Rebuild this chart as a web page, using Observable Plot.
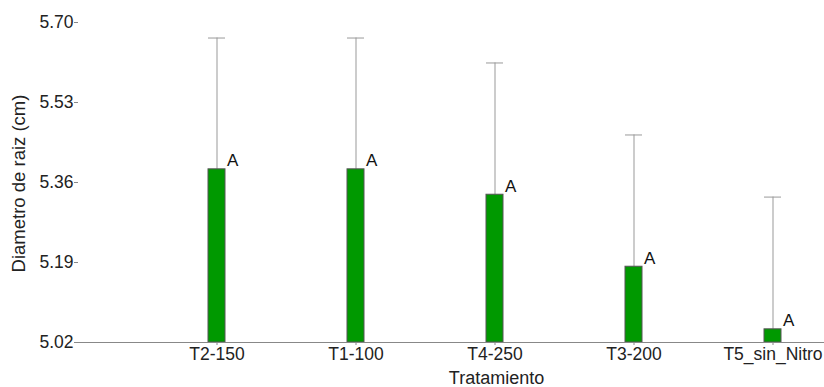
<!DOCTYPE html>
<html>
<head>
<meta charset="utf-8">
<script src="https://cdn.jsdelivr.net/npm/d3@7"></script>
<script src="https://cdn.jsdelivr.net/npm/@observablehq/plot@0.6"></script>
<style>
  html, body { margin: 0; padding: 0; background: #fff; }
  #chart svg { display: block; }
</style>
</head>
<body>
<div id="chart"></div>
<script>
const categories = ["T2-150", "T1-100", "T4-250", "T3-200", "T5_sin_Nitro"];
const means = [5.388, 5.388, 5.334, 5.181, 5.048];
const errors = [0.279, 0.279, 0.280, 0.280, 0.281];
const letters = ["A", "A", "A", "A", "A"];
const yTicks = [5.02, 5.19, 5.36, 5.53, 5.70];
const yLabel = "Diametro de raiz (cm)";
const xLabel = "Tratamiento";

const data = categories.map((c, i) => ({cat: c, mean: means[i], err: errors[i], letter: letters[i]}));

const chart = Plot.plot({
  width: 824,
  height: 387,
  marginLeft: 78,
  marginRight: 0,
  marginTop: 22,
  marginBottom: 45,
  style: {fontFamily: "'Liberation Sans', Arial, sans-serif", fontSize: "17px", color: "#222", background: "#fff"},
  x: {type: "band", domain: categories, range: [147, 842], paddingInner: 0.878, paddingOuter: 0.439, label: null},
  y: {domain: [5.02, 5.70], label: null},
  marks: [
    Plot.ruleX(data, {x: "cat", y1: "mean", y2: d => d.mean + d.err, stroke: "#999", strokeWidth: 1}),
    Plot.tickY(data, {x: "cat", y: d => d.mean + d.err, stroke: "#999", strokeWidth: 1}),
    Plot.barY(data, {x: "cat", y1: 5.02, y2: "mean", fill: "#009900", stroke: "#555", strokeWidth: 1}),
    Plot.text(data, {x: "cat", y: "mean", text: "letter", textAnchor: "start", lineAnchor: "bottom", dx: 10, dy: -3, fontSize: 17, fill: "#111"}),
    Plot.ruleY([5.02], {stroke: "#888"}),
    Plot.ruleX([0], {frameAnchor: "left", stroke: "#888"}),
    Plot.axisY({ticks: yTicks, tickFormat: d => d.toFixed(2), tickSize: 4, tickPadding: 1, stroke: "#888", fill: "#222", label: null, fontSize: 17.5}),
    Plot.axisX({tickSize: 3, tickPadding: 2, stroke: "#888", fill: "#222", label: null, fontSize: 17.5}),
    Plot.text([yLabel], {frameAnchor: "left", textAnchor: "middle", lineAnchor: "middle", rotate: -90, dx: -59, dy: 1, fontSize: 18.5, fill: "#222"}),
    Plot.text([xLabel], {frameAnchor: "bottom", textAnchor: "middle", lineAnchor: "bottom", dx: 45, dy: 41, fontSize: 18, fill: "#222"})
  ]
});
document.getElementById("chart").appendChild(chart);
</script>
</body>
</html>
